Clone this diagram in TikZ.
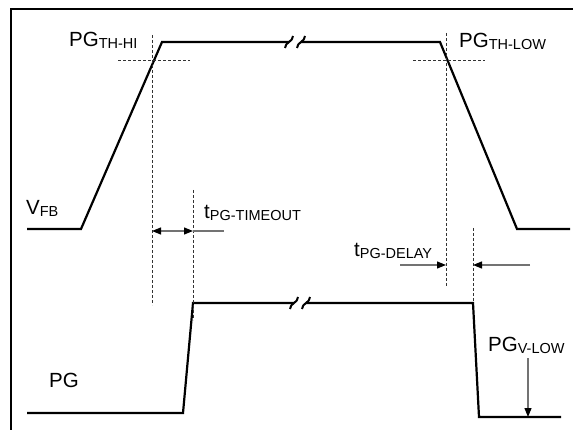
\documentclass[tikz,border=0pt]{standalone}
\usepackage{fontspec}
\setmainfont{Liberation Sans}
\usetikzlibrary{arrows.meta,calc}
\newcommand{\mainsz}{\fontsize{20.5}{22}\selectfont}
\newcommand{\subt}[1]{\raisebox{-1.5pt}{\fontsize{14.5}{16}\selectfont #1}}
\begin{document}
\begin{tikzpicture}[x=1pt,y=-1pt,
  wave/.style={line width=2.2pt, line join=miter},
  frameline/.style={line width=2pt},
  guide/.style={line width=0.9pt, black!80, dash pattern=on 3pt off 2pt},
  dim/.style={line width=1.2pt, black!55, -{Triangle[length=9pt,width=7pt,black]}},
  dimboth/.style={line width=1.2pt, black!55, {Triangle[length=9pt,width=7pt,black]}-{Triangle[length=9pt,width=7pt,black]}},
  lbl/.style={inner sep=0pt, anchor=base west, font=\mainsz},
  brk/.style={line width=2pt}]
\useasboundingbox (0,0) rectangle (573,430);
% frame
\coordinate (fTR) at (573,9);
\coordinate (fTL) at (11,9);
\coordinate (fBL) at (11,430);
\draw[frameline] (fTR) -- (fTL) -- (fBL);
% V_FB waveform
\coordinate (v0) at (27,229);
\coordinate (v1) at (81,229);
\coordinate (v2) at (162,42);
\coordinate (vb1) at (289,42);
\coordinate (vb2) at (301,42);
\coordinate (v3) at (440,42);
\coordinate (v4) at (517,229);
\coordinate (v5) at (570,229);
\draw[wave] (v0) -- (v1) -- (v2) -- (vb1);
\draw[wave] (vb2) -- (v3) -- (v4) -- (v5);
\draw[brk] ($(vb1)+(-4,6)$) .. controls ($(vb1)+(-4,0)$) and ($(vb1)+(4,0)$) .. ($(vb1)+(4,-6)$);
\draw[brk] ($(vb2)+(-4,6)$) .. controls ($(vb2)+(-4,0)$) and ($(vb2)+(4,0)$) .. ($(vb2)+(4,-6)$);
% PG waveform
\coordinate (p0) at (27,413);
\coordinate (p1) at (183,413);
\coordinate (p2) at (193,303);
\coordinate (pb1) at (294,303);
\coordinate (pb2) at (306,303);
\coordinate (p3) at (473,303);
\coordinate (p4) at (479,417);
\coordinate (p5) at (561,417);
\draw[wave] (p0) -- (p1) -- (p2) -- (pb1);
\draw[wave] (pb2) -- (p3) -- (p4) -- (p5);
\draw[brk] ($(pb1)+(-4,6)$) .. controls ($(pb1)+(-4,0)$) and ($(pb1)+(4,0)$) .. ($(pb1)+(4,-6)$);
\draw[brk] ($(pb2)+(-4,6)$) .. controls ($(pb2)+(-4,0)$) and ($(pb2)+(4,0)$) .. ($(pb2)+(4,-6)$);
% guides
\coordinate (gA1) at (152,35);  \coordinate (gA2) at (152,305);
\coordinate (gB1) at (193,190); \coordinate (gB2) at (193,320);
\coordinate (gC1) at (446,33);  \coordinate (gC2) at (446,287);
\coordinate (gD1) at (473,228); \coordinate (gD2) at (473,303);
\coordinate (hA1) at (118,60);  \coordinate (hA2) at (190,60);
\coordinate (hB1) at (413,60);  \coordinate (hB2) at (485,60);
\draw[guide] (gA1) -- (gA2);
\draw[guide] (gB1) -- (gB2);
\draw[guide] (gC1) -- (gC2);
\draw[guide] (gD1) -- (gD2);
\draw[guide] (hA1) -- (hA2);
\draw[guide] (hB1) -- (hB2);
% timing arrows
\coordinate (tA) at (152,231);
\coordinate (tB) at (193,231);
\coordinate (tC) at (224,231);
\draw[dimboth] (tA) -- (tB);
\draw[line width=1.2pt, black!55] (tB) -- (tC);
\coordinate (dA0) at (400,265); \coordinate (dA1) at (446,265);
\coordinate (dB0) at (530,265); \coordinate (dB1) at (473,265);
\draw[dim] (dA0) -- (dA1);
\draw[dim] (dB0) -- (dB1);
\coordinate (vl0) at (528,358); \coordinate (vl1) at (528,417);
\draw[dim] (vl0) -- (vl1);
% labels
\node[lbl] (lthhi) at (69,47) {PG\subt{TH-HI}};
\node[lbl] (lthlow) at (459,48) {PG\subt{TH-LOW}};
\node[lbl] (lvfb) at (26,215) {V\subt{FB}};
\node[lbl] (ltout) at (204,219) {t\subt{PG-TIMEOUT}};
\node[lbl] (ltdel) at (354,257) {t\subt{PG-DELAY}};
\node[lbl] (lpg) at (49,387) {PG};
\node[lbl] (lvlow) at (488,352) {PG\subt{V-LOW}};
\end{tikzpicture}
\end{document}
